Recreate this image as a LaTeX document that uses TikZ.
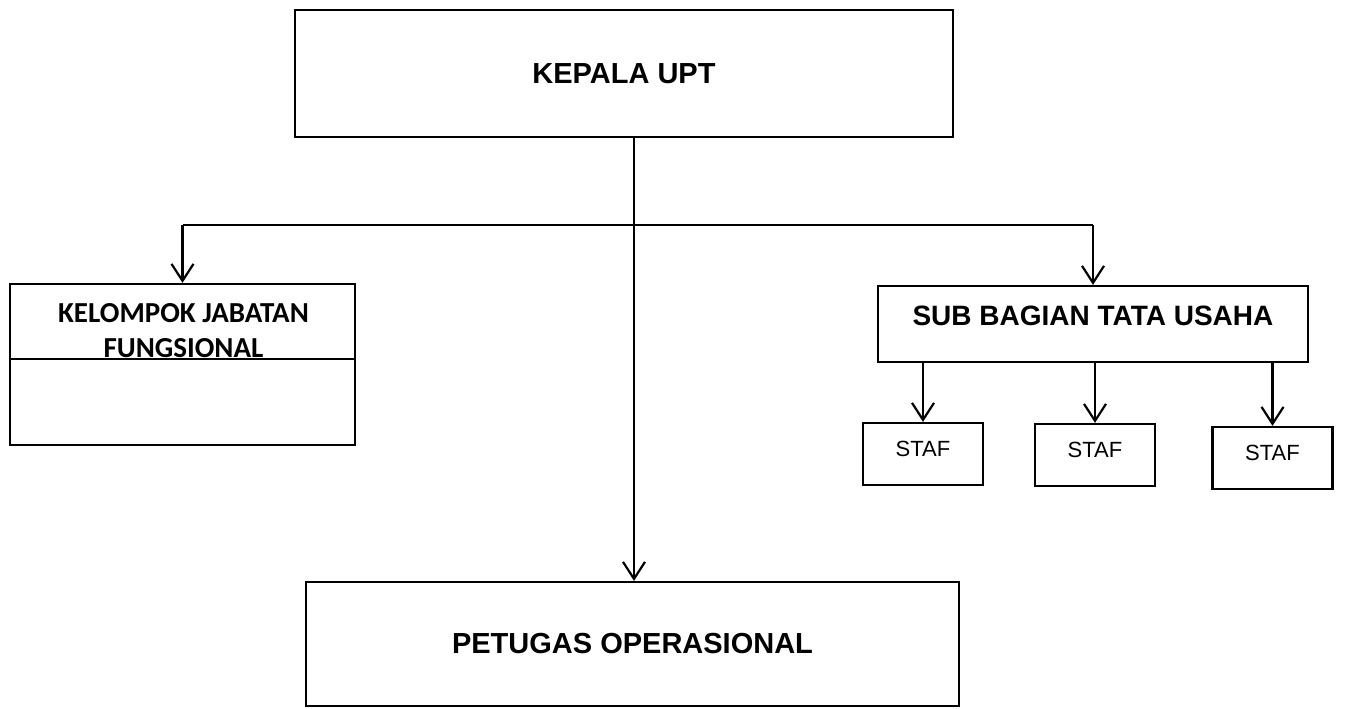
\documentclass[tikz,border=0pt]{standalone}
\usepackage{fontspec}
\setmainfont{Liberation Sans}
\newfontfamily\calibri{Carlito}
\usetikzlibrary{arrows.meta,positioning}

\begin{document}
\begin{tikzpicture}[x=1pt,y=-1pt,
   kotak/.style={draw,line width=2.2pt,inner sep=0pt,
     font=\fontsize{29}{35}\selectfont\bfseries},
   garis/.style={line width=2.2pt},
   panah/.style={line width=2.2pt,-{Straight Barb[length=17pt,width=22pt]}}]
\useasboundingbox (0,0) rectangle (1345,709);
% kotak utama
\node[kotak,minimum width=658,minimum height=127] (kepala) at (624,73.5) {KEPALA UPT};
\node[kotak,minimum width=653,minimum height=124] (petugas) at (632.5,644) {PETUGAS OPERASIONAL};
% kelompok jabatan fungsional (kotak dengan garis pemisah)
\node[kotak,minimum width=345,minimum height=161] (kelompok) at (182.5,364.5) {};
\draw[garis] ([yshift=5.5pt]kelompok.west) -- ([yshift=5.5pt]kelompok.east);
\node[font=\calibri\fontsize{29}{35}\selectfont\bfseries,align=center,anchor=north,
   inner sep=0pt] (kelompokteks) at (183.5,303) {KELOMPOK JABATAN\\FUNGSIONAL};
% sub bagian dan staf
\node[kotak,minimum width=430,minimum height=76,text depth=16pt,
   font=\fontsize{28}{34}\selectfont\bfseries] (subbagian) at (1093,324) {SUB BAGIAN TATA USAHA};
\foreach\s/\x/\y in {1/923/454,2/1095/455,3/1272.5/458}
{%
  \node[kotak,minimum width=120,minimum height=62,text depth=10pt,
     font=\fontsize{22}{26}\selectfont] (staf\s) at (\x,\y) {STAF};
}
% garis penghubung
\coordinate (cabang) at (634,225);
\draw[panah] (kepala.south -| cabang) -- (petugas.north -| cabang);
\draw[garis] (kelompok.north |- cabang) -- (subbagian.north |- cabang);
\draw[panah] (kelompok.north |- cabang) -- (kelompok.north);
\draw[panah] (subbagian.north |- cabang) -- (subbagian.north);
\foreach\s in {1,2,3}
  \draw[panah] (subbagian.south -| staf\s.north) -- (staf\s.north);
\end{tikzpicture}
\end{document}
